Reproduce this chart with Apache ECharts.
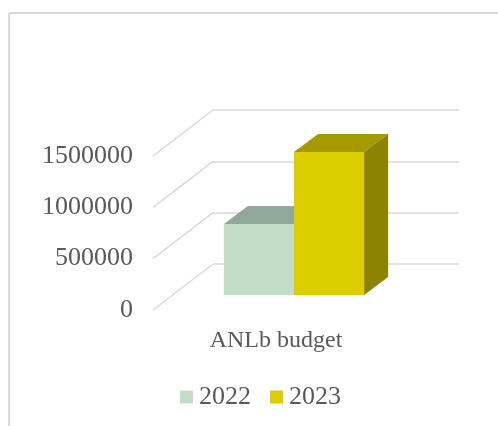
<!DOCTYPE html>
<html>
<head>
<meta charset="utf-8">
<style>
html, body { margin: 0; padding: 0; background: #fff; }
#main { width: 498px; height: 426px; }
</style>
<script src="https://cdn.jsdelivr.net/npm/echarts@6/dist/echarts.min.js"></script>
</head>
<body>
<div id="main"></div>
<script>
const categories = ["ANLb budget"];
const years = ["2022", "2023"];
const values2022 = [692000];
const values2023 = [1393000];
const yTicks = [0, 500000, 1000000, 1500000];

// fake 3D: how far the back wall sits from the front plane, in px
const wallX = 60, wallY = 46;
const barShiftX = 18, barShiftY = 15, barDepthX = 24, barDepthY = 18;
const barShare = 0.285;

const chart = echarts.init(document.getElementById("main"));

function poly(points, color) {
  return { type: "polygon", shape: { points: points }, style: { fill: color } };
}

function barRender(side, front, top, right) {
  return function (params, api) {
    const topPt = api.coord([api.value(0), api.value(1)]);
    const basePt = api.coord([api.value(0), 0]);
    const w = api.size([1, 0])[0] * barShare;
    const x0 = topPt[0] + barShiftX + (side < 0 ? -w : 0);
    const x1 = x0 + w;
    const y0 = topPt[1] - barShiftY;
    const y1 = basePt[1] - barShiftY;
    return {
      type: "group",
      children: [
        poly([[x0, y0], [x1, y0], [x1 + barDepthX, y0 - barDepthY], [x0 + barDepthX, y0 - barDepthY]], top),
        poly([[x1, y0], [x1 + barDepthX, y0 - barDepthY], [x1 + barDepthX, y1 - barDepthY], [x1, y1]], right),
        poly([[x0, y0], [x1, y0], [x1, y1], [x0, y1]], front)
      ]
    };
  };
}

chart.setOption({
  backgroundColor: "#fff",
  animation: false,
  textStyle: { fontFamily: "Liberation Serif" },
  graphic: [
    { type: "line", silent: true, shape: { x1: 9, y1: 13, x2: 498, y2: 13 }, style: { stroke: "#d9d9d9", lineWidth: 2 } },
    { type: "line", silent: true, shape: { x1: 9, y1: 13, x2: 9, y2: 426 }, style: { stroke: "#d9d9d9", lineWidth: 2 } }
  ],
  legend: {
    data: years,
    left: 175,
    top: 379,
    icon: "rect",
    itemWidth: 13,
    itemHeight: 13,
    itemGap: 19,
    textStyle: { fontFamily: "Liberation Serif", fontSize: 26, color: "#595959", padding: [0, 0, 0, 1] }
  },
  grid: [
    { left: 153, top: 156, width: 246, height: 154 },
    { left: 213, top: 110, width: 246, height: 154 }
  ],
  xAxis: [
    {
      type: "category",
      gridIndex: 0,
      data: categories,
      axisLine: { show: false },
      axisTick: { show: false },
      axisLabel: { fontFamily: "Liberation Serif", fontSize: 24, color: "#595959", margin: 19 }
    },
    { type: "category", gridIndex: 1, data: categories, show: false }
  ],
  yAxis: [
    {
      type: "value",
      gridIndex: 0,
      min: 0,
      max: 1500000,
      interval: 500000,
      splitLine: { show: false },
      axisLine: { show: false },
      axisTick: { show: false },
      axisLabel: {
        fontFamily: "Liberation Serif",
        fontSize: 26,
        color: "#595959",
        margin: 20,
        padding: [3, 0, 0, 0],
        formatter: (v) => String(v)
      }
    },
    {
      type: "value",
      gridIndex: 1,
      min: 0,
      max: 1500000,
      interval: 500000,
      axisLine: { show: false },
      axisTick: { show: false },
      axisLabel: { show: false },
      splitLine: { lineStyle: { color: "#d9d9d9", width: 1.5 } }
    }
  ],
  series: [
    {
      // slanted side wall lines
      type: "custom",
      name: "wall",
      xAxisIndex: 0,
      yAxisIndex: 0,
      silent: true,
      clip: false,
      data: yTicks.map((v) => [0, v]),
      encode: { x: 0, y: 1 },
      renderItem: function (params, api) {
        const p = api.coord([0, api.value(1)]);
        return {
          type: "line",
          shape: { x1: params.coordSys.x, y1: p[1], x2: params.coordSys.x + wallX, y2: p[1] - wallY },
          style: { stroke: "#d9d9d9", lineWidth: 1.5 }
        };
      }
    },
    {
      type: "custom",
      name: years[0],
      xAxisIndex: 0,
      yAxisIndex: 0,
      clip: false,
      itemStyle: { color: "#c3dec8" },
      data: values2022.map((v, i) => [i, v]),
      encode: { x: 0, y: 1 },
      renderItem: barRender(-1, "#c3dec8", "#90a898", "#90a898")
    },
    {
      type: "custom",
      name: years[1],
      xAxisIndex: 0,
      yAxisIndex: 0,
      clip: false,
      itemStyle: { color: "#dacd00" },
      data: values2023.map((v, i) => [i, v]),
      encode: { x: 0, y: 1 },
      renderItem: barRender(1, "#dacd00", "#a59b00", "#8c8300")
    }
  ]
});
</script>
</body>
</html>
